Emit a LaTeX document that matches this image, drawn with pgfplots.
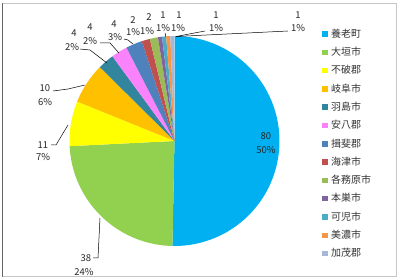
\documentclass[border=0pt]{standalone}
\usepackage{pgfplots}
\usepackage{pgfplotstable}
\pgfplotsset{compat=1.18}
\usepackage{fontspec}
\newfontfamily\cjk{Noto Sans CJK JP}
\definecolor{c1}{HTML}{00B0F0}
\definecolor{c2}{HTML}{92D050}
\definecolor{c3}{HTML}{FFFF00}
\definecolor{c4}{HTML}{FFC000}
\definecolor{c5}{HTML}{31859C}
\definecolor{c6}{HTML}{FA82FA}
\definecolor{c7}{HTML}{4F81BD}
\definecolor{c8}{HTML}{C0504D}
\definecolor{c9}{HTML}{9BBB59}
\definecolor{c10}{HTML}{8064A2}
\definecolor{c11}{HTML}{4BACC6}
\definecolor{c12}{HTML}{F79646}
\definecolor{c13}{HTML}{A5B8D8}
\pgfplotstableread{
name value color
養老町 80 c1
大垣市 38 c2
不破郡 11 c3
岐阜市 10 c4
羽島市 4 c5
安八郡 4 c6
揖斐郡 4 c7
海津市 2 c8
各務原市 2 c9
本巣市 1 c10
可児市 1 c11
美濃市 1 c12
加茂郡 1 c13
}\piedata
\begin{document}
\begin{tikzpicture}
\xdef\total{0}
\pgfplotstableforeachcolumnelement{value}\of\piedata\as\v{%
  \pgfmathparse{\total+\v}\xdef\total{\pgfmathresult}}
\begin{axis}[
  hide axis, clip=false,
  scale only axis, width=400bp, height=280bp,
  xmin=0, xmax=400, ymin=0, ymax=280,
  legend image code/.code={\fill[#1] (0bp,-2.5bp) rectangle (5.5bp,3bp);},
  legend cell align=left,
  legend style={at={(axis cs:322,252)}, anchor=north west, draw=none, fill=none,
    font=\cjk\fontsize{10}{11}\selectfont, inner sep=0pt, row sep=6.3bp,
    nodes={inner sep=1bp, text height=8bp, text depth=2bp, text=black!80},
    /tikz/every odd column/.append style={column sep=2.5bp}},
]
\path (axis cs:0,0) (axis cs:400,280);
\xdef\startang{90}
\pgfplotsinvokeforeach{0,...,12}{
  \pgfplotstablegetelem{#1}{value}\of\piedata \let\v\pgfplotsretval
  \pgfplotstablegetelem{#1}{color}\of\piedata \let\col\pgfplotsretval
  \pgfplotstablegetelem{#1}{name}\of\piedata \let\nm\pgfplotsretval
  \pgfmathsetmacro{\endang}{\startang-\v/\total*360}
  \edef\doplot{\noexpand\addplot[fill=\col, draw=none, domain=\endang:\startang, samples=60]
    ({174.5+105*cos(x)},{139+105*sin(x)}) -- (axis cs:174.5,139) -- cycle;
    \noexpand\addlegendentry{\nm}}
  \doplot
  \xdef\startang{\endang}
}
% frame
\draw[gray!45, line width=1bp] (axis cs:2.5,276.5) -- (axis cs:396,276.5) -- (axis cs:396,3.5) -- (axis cs:2.5,3.5);
\draw[gray!80!black, line width=1.5bp] (axis cs:2.5,276.5) -- (axis cs:2.5,3.5);
% leaders
\begin{scope}[black, line width=0.5bp]
\draw (axis cs:93,22) -- (axis cs:98,22) -- (axis cs:100,62);
\draw (axis cs:51,135) -- (axis cs:56,135) -- (axis cs:68,155);
\draw (axis cs:53,189) -- (axis cs:68,191) -- (axis cs:85,195);
\draw (axis cs:80,231) -- (axis cs:90,230) -- (axis cs:107,217);
\draw (axis cs:100,237) -- (axis cs:110,237) -- (axis cs:119,227);
\draw (axis cs:124,241) -- (axis cs:128,240) -- (axis cs:133,236);
\draw (axis cs:165,247) -- (axis cs:166,243);
\draw (axis cs:205,249) -- (axis cs:176,243.5);
\draw (axis cs:288,249) -- (axis cs:176,243.5);
\end{scope}
% labels
\begin{scope}[every node/.style={font=\cjk\fontsize{9.5}{10}\selectfont, inner sep=0pt, text=black!85}]
\node at (axis cs:266,144) {80};  \node at (axis cs:266,130) {50\%};
\node at (axis cs:86,22) {38};    \node at (axis cs:84,8) {24\%};
\node at (axis cs:43,135) {11};   \node at (axis cs:43,123) {7\%};
\node at (axis cs:45,192) {10};   \node at (axis cs:45,178) {6\%};
\node at (axis cs:74,247) {4};    \node at (axis cs:72,233) {2\%};
\node at (axis cs:90,253) {4};    \node at (axis cs:90,239) {2\%};
\node at (axis cs:114,256) {4};   \node at (axis cs:115,243) {3\%};
\node at (axis cs:133,260) {2};   \node at (axis cs:133,248) {1\%};
\node at (axis cs:149,263) {2};   \node at (axis cs:147,249) {1\%};
\node at (axis cs:163,265) {1};   \node at (axis cs:163,252) {1\%};
\node at (axis cs:179,265) {1};   \node at (axis cs:178,252) {1\%};
\node at (axis cs:216,265) {1};   \node at (axis cs:216,252) {1\%};
\node at (axis cs:298,265) {1};   \node at (axis cs:298,252) {1\%};
\end{scope}
\end{axis}
\end{tikzpicture}
\end{document}
